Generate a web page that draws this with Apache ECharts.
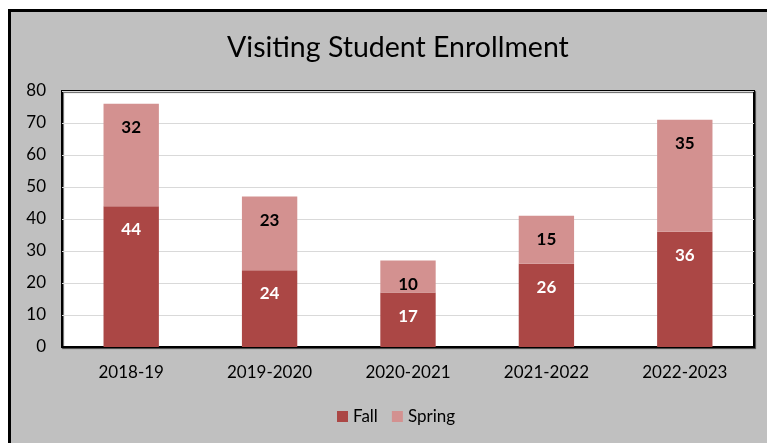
<!DOCTYPE html>
<html>
<head>
<meta charset="utf-8">
<script src="https://cdn.jsdelivr.net/npm/echarts@6/dist/echarts.min.js"></script>
<style>
  html, body { margin: 0; padding: 0; background: #fff; }
  #chart { width: 767px; height: 443px; }
</style>
</head>
<body>
<div id="chart"></div>
<script>
// chart data
var years = ['2018-19', '2019-2020', '2020-2021', '2021-2022', '2022-2023'];
var fall = [44, 24, 17, 26, 36];
var spring = [32, 23, 10, 15, 35];

var myChart = echarts.init(document.getElementById('chart'));
var font = 'Lato, "Open Sans", sans-serif';

var option = {
  backgroundColor: '#fff',
  textStyle: { fontFamily: font },
  graphic: [
    {
      type: 'rect',
      z: -10,
      shape: { x: 9.5, y: 10.5, width: 800, height: 500 },
      style: { fill: '#c0c0c0', stroke: '#000', lineWidth: 3 }
    }
  ],
  title: {
    text: 'Visiting Student Enrollment',
    left: 222,
    top: 28,
    textStyle: { fontFamily: font, fontSize: 28.5, fontWeight: 'normal', color: '#000' }
  },
  legend: {
    bottom: 13,
    left: 332,
    itemWidth: 11,
    itemHeight: 11,
    itemGap: 14,
    icon: 'rect',
    textStyle: { fontFamily: font, fontSize: 17, color: '#000' },
    data: ['Fall', 'Spring']
  },
  grid: {
    left: 62,
    top: 91,
    right: 13,
    bottom: 96,
    show: true,
    backgroundColor: '#fff',
    borderColor: '#000',
    borderWidth: 2,
    shadowColor: 'rgba(0,0,0,0.6)',
    shadowOffsetX: 1,
    shadowOffsetY: 1,
    shadowBlur: 1
  },
  xAxis: {
    type: 'category',
    data: years,
    axisTick: { show: false },
    axisLine: { lineStyle: { color: '#000', width: 2 } },
    axisLabel: { fontFamily: font, fontSize: 17, color: '#000', margin: 17 }
  },
  yAxis: {
    type: 'value',
    min: 0,
    max: 80,
    interval: 10,
    axisLine: { show: false },
    axisTick: { show: false },
    splitLine: { lineStyle: { color: '#d9d9d9', width: 1 } },
    axisLabel: { fontFamily: font, fontSize: 17, color: '#000', margin: 16 }
  },
  series: [
    {
      name: 'Fall',
      type: 'bar',
      stack: 'total',
      barWidth: '40%',
      itemStyle: { color: '#ab4745' },
      label: {
        show: true,
        position: 'insideTop',
        distance: 15,
        color: '#fff',
        fontWeight: 'bold',
        fontSize: 17,
        fontFamily: font
      },
      data: fall
    },
    {
      name: 'Spring',
      type: 'bar',
      stack: 'total',
      barWidth: '40%',
      itemStyle: { color: '#d39190' },
      label: {
        show: true,
        position: 'insideTop',
        distance: 15,
        color: '#000',
        fontWeight: 'bold',
        fontSize: 17,
        fontFamily: font
      },
      data: spring
    }
  ]
};

myChart.setOption(option);
</script>
</body>
</html>
